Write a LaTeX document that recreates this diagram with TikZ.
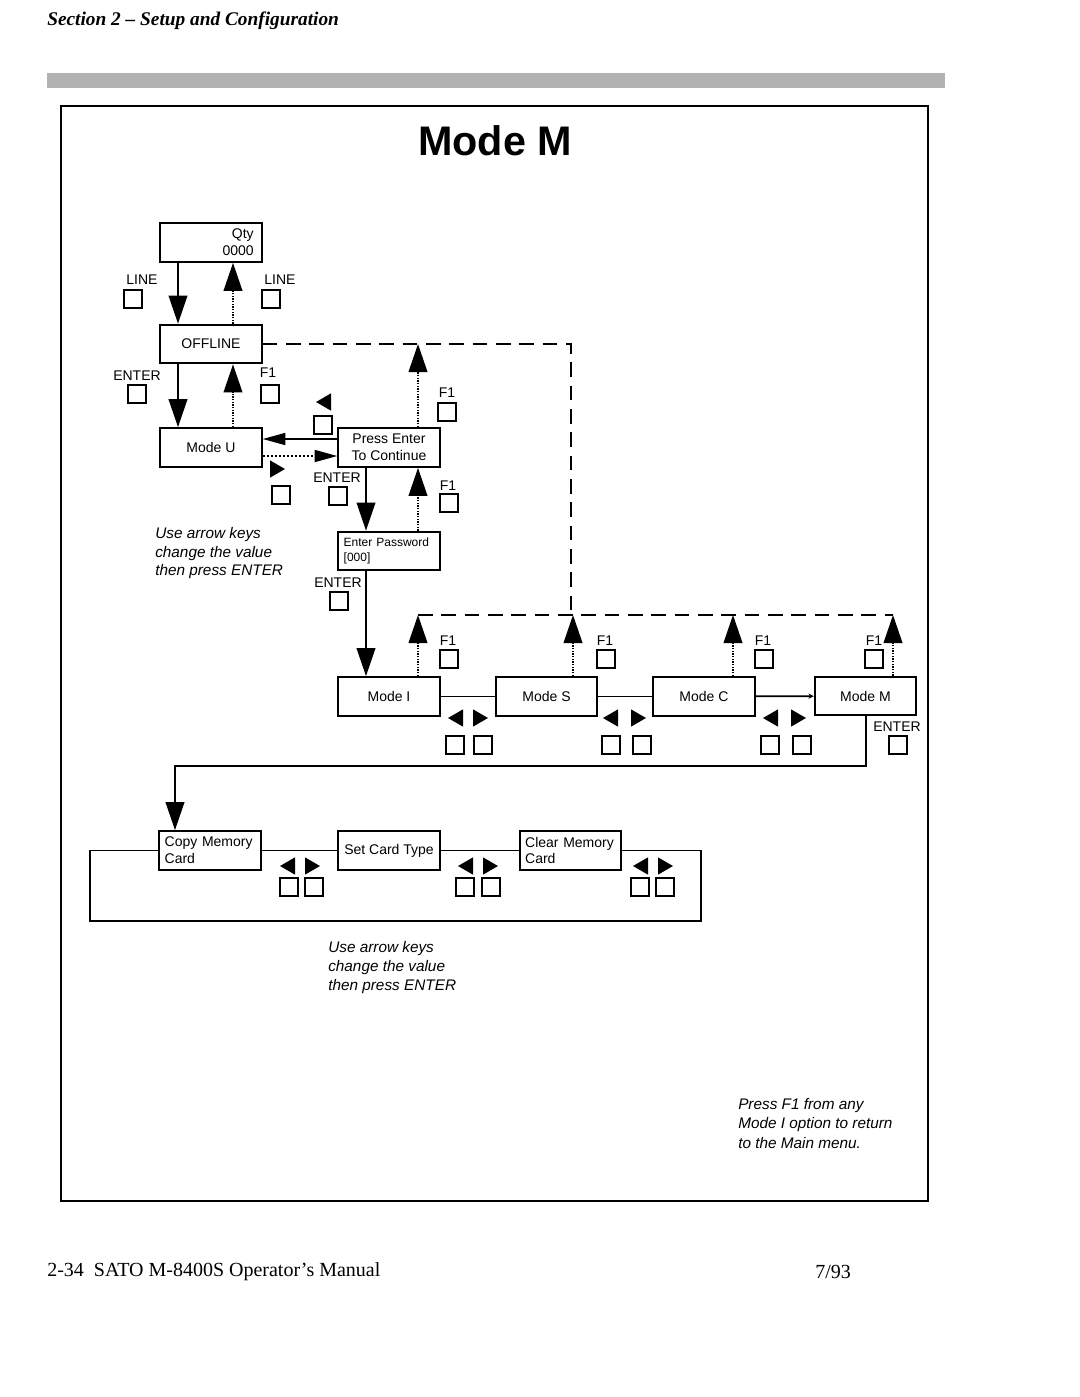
\documentclass[tikz,border=0pt]{standalone}
\usepackage{fontspec}
\setmainfont{Liberation Serif}
\setsansfont{Liberation Sans}
\usetikzlibrary{arrows.meta,shapes.geometric}

\tikzset{
  screen/.style={draw, line width=1.6pt, minimum width=76pt, minimum height=29pt,
    inner sep=2pt, font=\sffamily\fontsize{10.5}{12.5}\selectfont},
  key/.style={draw, line width=1.3pt, minimum size=13.5pt, inner sep=0pt},
  keyname/.style={font=\sffamily\fontsize{10.5}{12}\selectfont, inner sep=0pt},
  lefttri/.style={regular polygon, regular polygon sides=3, shape border rotate=90,
    fill, minimum size=15pt, inner sep=0pt},
  righttri/.style={regular polygon, regular polygon sides=3, shape border rotate=-90,
    fill, minimum size=15pt, inner sep=0pt},
  go/.style={line width=1.3pt, -{Triangle[length=21pt,width=14pt]}},
  back/.style={line width=1.3pt, dash pattern=on 1pt off 1pt, -{Triangle[length=21pt,width=14pt]}},
  hgo/.style={line width=1.3pt, -{Triangle[length=17pt,width=9pt]}},
  hback/.style={line width=1.3pt, dash pattern=on 1.5pt off 1.5pt, -{Triangle[length=17pt,width=9pt]}},
  wire/.style={line width=1.3pt},
  loop/.style={line width=1.3pt, dash pattern=on 11pt off 6.5pt},
  note/.style={font=\sffamily\itshape\fontsize{11.5}{14}\selectfont, align=left,
    anchor=north west, inner sep=0pt},
  pagetext/.style={font=\rmfamily\fontsize{15}{18}\selectfont, anchor=west, inner sep=0pt}
}

\begin{document}
\begin{tikzpicture}[x=0.75pt, y=-0.75pt]
\useasboundingbox (0,0) rectangle (1080,1397);

% page furniture
\node[pagetext, font=\rmfamily\bfseries\itshape\fontsize{14.5}{17}\selectfont] (sect) at (47,21) {Section 2 -- Setup and Configuration};
\fill[black!30] (47,73) rectangle (945,88);
\draw[line width=1.1pt] (61,106) rectangle (928,1201);
\node[font=\sffamily\bfseries\fontsize{31}{36}\selectfont] (title) at (495,141) {Mode M};

% lanes
\coordinate (laneA) at (178,0);
\coordinate (laneB) at (233,0);
\coordinate (laneC) at (366,0);
\coordinate (laneD) at (418,0);
\coordinate (laneS) at (573,0);
\coordinate (laneK) at (733,0);
\coordinate (laneM) at (893,0);
\coordinate (laneMM) at (866,0);
\coordinate (laneCopy) at (175,0);
\coordinate (rowL) at (0,439);
\coordinate (rowR) at (0,456);
\coordinate (turnrow) at (0,766);

% screens
\node[screen, text width=64pt, align=right] (qty) at (211,242.5) {Qty\hspace*{5pt}\\0000};
\node[screen] (offline) at (211,344) {OFFLINE};
\node[screen] (modeu) at (211,447.5) {Mode U};
\node[screen, align=center] (press) at (389,447.5) {Press Enter\\To Continue};
\node[screen, text width=68pt, align=left, font=\sffamily\fontsize{9}{11}\selectfont] (passwd) at (389,551) {Enter Password\\{[000]}};
\node[screen] (modei) at (389,696.5) {Mode I};
\node[screen] (modes) at (546.5,696.5) {Mode S};
\node[screen] (modec) at (704,696.5) {Mode C};
\node[screen] (modem) at (865.5,696) {Mode M};
\node[screen, text width=68pt, align=left] (copy) at (210,850.5) {Copy Memory\\Card};
\node[screen] (cardtype) at (389,850.5) {Set Card Type};
\node[screen, text width=68pt, align=left] (clear) at (570.5,850.5) {Clear Memory\\Card};

% keys, upper part
\node[keyname] (lineA) at (142,280) {LINE};
\node[key] (lineAkey) at (133,299) {};
\node[keyname] (lineB) at (280,280) {LINE};
\node[key] (lineBkey) at (271,299) {};
\node[keyname] (enterA) at (137,376) {ENTER};
\node[key] (enterAkey) at (137,394) {};
\node[keyname] (fA) at (268,373) {F1};
\node[key] (fAkey) at (270,394) {};
\node[lefttri] (toU) at (326,402) {};
\node[key] (toUkey) at (323,425) {};
\node[righttri] (toP) at (275,469) {};
\node[key] (toPkey) at (281,495) {};
\node[keyname] (fB) at (447,393) {F1};
\node[key] (fBkey) at (447,412) {};
\node[keyname] (enterB) at (337,478) {ENTER};
\node[key] (enterBkey) at (338,496) {};
\node[keyname] (fC) at (448,486) {F1};
\node[key] (fCkey) at (449,503) {};
\node[keyname] (enterC) at (338,583) {ENTER};
\node[key] (enterCkey) at (339,601) {};

% keys, mode row
\node[keyname] (fI) at (448,641) {F1};
\node[key] (fIkey) at (449,659) {};
\node[keyname] (fS) at (605,641) {F1};
\node[key] (fSkey) at (606,659) {};
\node[keyname] (fK) at (763,641) {F1};
\node[key] (fKkey) at (764,659) {};
\node[keyname] (fM) at (874,641) {F1};
\node[key] (fMkey) at (874,659) {};
\node[keyname] (enterM) at (897,727) {ENTER};
\node[key] (enterMkey) at (898,745) {};
\node[lefttri] (isl) at (458,718) {};
\node[righttri] (isr) at (478,718) {};
\node[key] (islkey) at (455,745) {};
\node[key] (isrkey) at (483,745) {};
\node[lefttri] (skl) at (613,718) {};
\node[righttri] (skr) at (636,718) {};
\node[key] (sklkey) at (611,745) {};
\node[key] (skrkey) at (642,745) {};
\node[lefttri] (kml) at (773,718) {};
\node[righttri] (kmr) at (796,718) {};
\node[key] (kmlkey) at (770,745) {};
\node[key] (kmrkey) at (802,745) {};

% keys, card row
\node[lefttri] (ctl) at (290,866) {};
\node[righttri] (ctr) at (310,866) {};
\node[key] (ctlkey) at (289,887) {};
\node[key] (ctrkey) at (314,887) {};
\node[lefttri] (tcl) at (468,866) {};
\node[righttri] (tcr) at (488,866) {};
\node[key] (tclkey) at (465,887) {};
\node[key] (tcrkey) at (491,887) {};
\node[lefttri] (ccl) at (643,866) {};
\node[righttri] (ccr) at (663,866) {};
\node[key] (cclkey) at (640,887) {};
\node[key] (ccrkey) at (665,887) {};

% notes
\node[note] (hintA) at (155,527) {Use arrow keys\\change the value\\then press ENTER};
\node[note, font=\sffamily\itshape\fontsize{11.5}{14.3}\selectfont] (hintB) at (328,941) {Use arrow keys\\change the value\\then press ENTER};
\node[note, font=\sffamily\itshape\fontsize{11.5}{14.6}\selectfont] (hintC) at (738,1098) {Press F1 from any\\Mode I option to return\\to the Main menu.};

% connectors
\draw[go] (qty.south -| laneA) -- (offline.north -| laneA);
\draw[back] (offline.north -| laneB) -- (qty.south -| laneB);
\draw[go] (offline.south -| laneA) -- (modeu.north -| laneA);
\draw[back] (modeu.north -| laneB) -- (offline.south -| laneB);
\draw[hgo] (press.west |- rowL) -- (modeu.east |- rowL);
\draw[hback] (modeu.east |- rowR) -- (press.west |- rowR);
\draw[go] (press.south -| laneC) -- (passwd.north -| laneC);
\draw[back] (passwd.north -| laneD) -- (press.south -| laneD);
\draw[go] (passwd.south -| laneC) -- (modei.north -| laneC);

% return path to OFFLINE
\coordinate (dashcorner) at (571,344);
\coordinate (dashjoin) at (571,615);
\coordinate (retI) at (418,615);
\coordinate (retM) at (893,615);
\draw[loop] (offline.east) -- (dashcorner) -- (dashjoin);
\draw[loop] (retI) -- (retM);
\draw[back] (press.north -| laneD) -- (laneD |- dashcorner);
\draw[back] (modei.north -| laneD) -- (retI);
\draw[back] (modes.north -| laneS) -- (laneS |- retI);
\draw[back] (modec.north -| laneK) -- (laneK |- retI);
\draw[back] (modem.north -| laneM) -- (retM);

% mode row
\draw[wire] (modei) -- (modes);
\draw[wire] (modes) -- (modec);
\draw[wire, -{Stealth[length=4pt,width=4pt]}] (modec) -- (modem);
\draw[go] (modem.south -| laneMM) -- (laneMM |- turnrow) -- (laneCopy |- turnrow) -- (copy.north -| laneCopy);

% card row
\coordinate (cardNE) at (701,850.5);
\coordinate (cardSE) at (701,921);
\coordinate (cardSW) at (90,921);
\coordinate (cardNW) at (90,850.5);
\draw[wire] (copy) -- (cardtype);
\draw[wire] (cardtype) -- (clear);
\draw[wire] (clear.east) -- (cardNE) -- (cardSE) -- (cardSW) -- (cardNW) -- (copy.west);

% footer
\node[pagetext] (foot) at (47,1272) {2-34\enspace SATO M-8400S Operator's Manual};
\node[pagetext] (date) at (815,1272) {7/93};
\end{tikzpicture}
\end{document}
